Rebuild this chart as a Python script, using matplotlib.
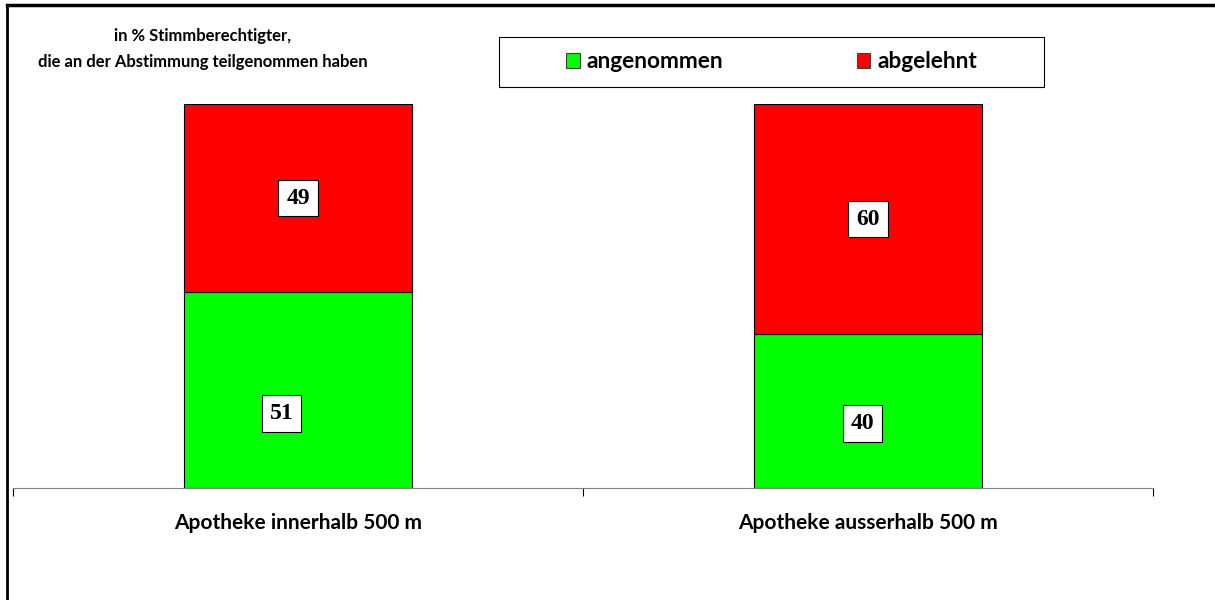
import matplotlib.pyplot as plt
from matplotlib.lines import Line2D
from matplotlib.patches import Patch, Rectangle

categories = ['Apotheke innerhalb 500 m', 'Apotheke ausserhalb 500 m']
angenommen = [51, 40]
abgelehnt = [49, 60]
series_names = ['angenommen', 'abgelehnt']
note = 'in % Stimmberechtigter,\ndie an der Abstimmung teilgenommen haben'

green = '#00ff00'
red = '#ff0000'
plt.rcParams['font.family'] = ['Lato', 'DejaVu Sans']

# label nudges (points) to sit where the original placed them
green_offsets = [(-12, -17), (-4, -9)]

W, H = 1215, 600
fig = plt.figure(figsize=(W / 100, H / 100), dpi=100)
ax = fig.add_axes([13 / W, 112 / H, 1140 / W, 384 / H])

x = list(range(len(categories)))
ax.bar(x, angenommen, width=0.4, color=green, edgecolor='black', linewidth=0.8)
ax.bar(x, abgelehnt, width=0.4, bottom=angenommen, color=red,
       edgecolor='black', linewidth=0.8)

box = dict(boxstyle='square,pad=0.33', facecolor='white', edgecolor='black', linewidth=0.8)
num_font = dict(fontsize=17, fontweight='bold', family=['Liberation Serif', 'DejaVu Serif'])
for i in x:
    ax.annotate(str(angenommen[i]), (i, angenommen[i] / 2), xytext=green_offsets[i],
                textcoords='offset points', ha='center', va='center', bbox=box, **num_font)
    ax.annotate(str(abgelehnt[i]), (i, angenommen[i] + abgelehnt[i] / 2), ha='center',
                va='center', bbox=box, **num_font)

ax.set_xlim(-0.5, len(categories) - 0.5)
ax.set_ylim(0, 100)
for s in ['top', 'right', 'left']:
    ax.spines[s].set_visible(False)
ax.spines['bottom'].set_color('#808080')
ax.set_yticks([])
ax.set_xticks(x)
ax.set_xticklabels(categories, fontsize=15, fontweight='bold')
ax.tick_params(axis='x', which='major', length=0, pad=18)
ax.set_xticks([-0.5, 0.5, 1.5], minor=True)
ax.tick_params(axis='x', which='minor', length=6, width=0.8, color='black', direction='out')

fig.text(203 / W, 1 - 49 / H, note, ha='center', va='center',
         fontsize=12, fontweight='bold', linespacing=1.75)

# legend: fixed frame, entries centred inside
fig.add_artist(Rectangle((499 / W, 1 - 87 / H), 545 / W, 50 / H, transform=fig.transFigure,
                         facecolor='white', edgecolor='black', linewidth=0.8))
handles = [Patch(facecolor=green, edgecolor='#404040', linewidth=0.8),
           Patch(facecolor=red, edgecolor='#404040', linewidth=0.8)]
leg = fig.legend(handles, series_names, ncol=2, loc='center',
                 bbox_to_anchor=((499 + 545 / 2) / W, 1 - 62 / H),
                 frameon=False, borderaxespad=0, borderpad=0,
                 handlelength=0.6, handleheight=0.6, handletextpad=0.3,
                 columnspacing=5.9, prop={'weight': 'bold', 'size': 16.3})

# frame around the chart area (cut at right and bottom)
fig.add_artist(Line2D([7 / W, 1], [1 - 5 / H] * 2, color='black', linewidth=2.5,
                      transform=fig.transFigure))
fig.add_artist(Line2D([7 / W] * 2, [0, 1 - 5 / H], color='black', linewidth=2,
                      transform=fig.transFigure))

fig.savefig('out.png', dpi=100)
